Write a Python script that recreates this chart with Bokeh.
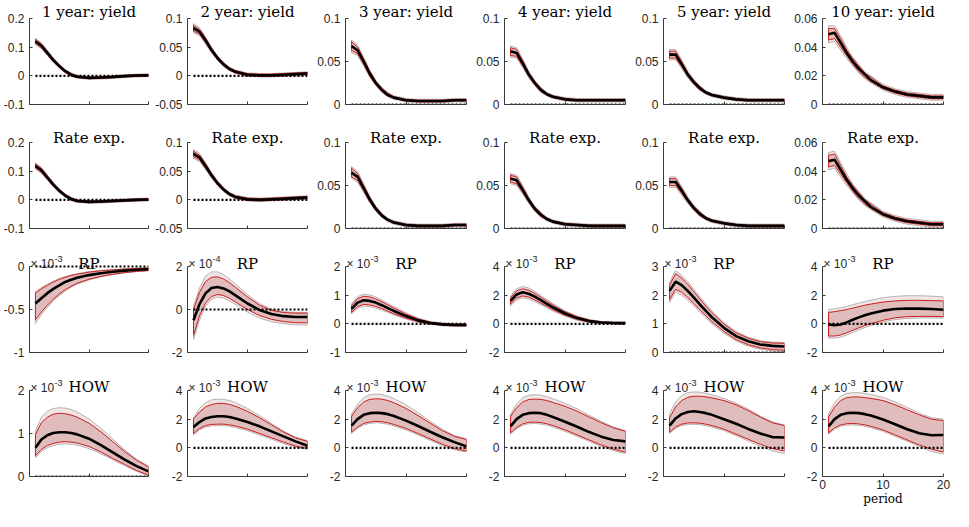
from bokeh.plotting import figure
from bokeh.layouts import gridplot
from bokeh.models import Range1d, FixedTicker
from bokeh.core.properties import value
from bokeh.embed import file_html
from bokeh.resources import INLINE

# ---------------- data ----------------
periods = [1, 2, 3, 4, 5, 6, 7, 8, 10, 12, 14, 16, 18, 20]
x_ticks = [0, 10, 20]
x_tick_labels = ["0", "10", "20"]
x_label = "period"
zero = 0

maturities = ["1 year: yield", "2 year: yield", "3 year: yield", "4 year: yield", "5 year: yield", "10 year: yield"]
row_titles = ["Rate exp.", "RP", "HOW"]

# row 1: yields
yield1_med = [0.120, 0.105, 0.080, 0.055, 0.034, 0.016, 0.004, -0.003, -0.007, -0.006, -0.004, -0.001, 0.001, 0.002]
yield1_hi68 = [0.127, 0.112, 0.086, 0.060, 0.038, 0.020, 0.008, 0.000, -0.004, -0.003, -0.001, 0.002, 0.004, 0.005]
yield1_lo68 = [0.113, 0.098, 0.074, 0.050, 0.030, 0.012, 0.000, -0.006, -0.010, -0.009, -0.007, -0.004, -0.002, -0.001]
yield1_hi90 = [0.131, 0.115, 0.089, 0.063, 0.041, 0.022, 0.010, 0.002, -0.002, -0.001, 0.001, 0.004, 0.006, 0.007]
yield1_lo90 = [0.109, 0.095, 0.071, 0.047, 0.027, 0.010, -0.002, -0.008, -0.012, -0.011, -0.009, -0.006, -0.004, -0.003]

yield2_med = [0.083, 0.077, 0.062, 0.045, 0.031, 0.020, 0.012, 0.007, 0.002, 0.001, 0.001, 0.002, 0.003, 0.004]
yield2_hi68 = [0.088, 0.081, 0.066, 0.048, 0.034, 0.022, 0.014, 0.009, 0.004, 0.003, 0.003, 0.004, 0.005, 0.006]
yield2_lo68 = [0.078, 0.073, 0.058, 0.042, 0.028, 0.018, 0.010, 0.005, 0.000, -0.001, -0.001, 0.000, 0.001, 0.002]
yield2_hi90 = [0.091, 0.084, 0.068, 0.050, 0.035, 0.024, 0.015, 0.010, 0.005, 0.004, 0.004, 0.005, 0.006, 0.007]
yield2_lo90 = [0.075, 0.070, 0.056, 0.040, 0.027, 0.016, 0.009, 0.004, -0.001, -0.002, -0.002, -0.001, 0.000, 0.001]

yield3_med = [0.068, 0.063, 0.050, 0.036, 0.025, 0.017, 0.011, 0.008, 0.005, 0.004, 0.004, 0.004, 0.005, 0.005]
yield3_hi68 = [0.073, 0.067, 0.053, 0.039, 0.027, 0.019, 0.013, 0.009, 0.006, 0.005, 0.005, 0.005, 0.006, 0.006]
yield3_lo68 = [0.063, 0.059, 0.047, 0.033, 0.023, 0.015, 0.010, 0.007, 0.004, 0.003, 0.003, 0.003, 0.004, 0.004]
yield3_hi90 = [0.075, 0.069, 0.055, 0.040, 0.028, 0.020, 0.014, 0.010, 0.007, 0.006, 0.006, 0.006, 0.007, 0.007]
yield3_lo90 = [0.060, 0.057, 0.045, 0.032, 0.022, 0.014, 0.009, 0.006, 0.003, 0.002, 0.002, 0.002, 0.003, 0.003]

yield4_med = [0.062, 0.060, 0.048, 0.035, 0.025, 0.017, 0.012, 0.009, 0.006, 0.005, 0.005, 0.005, 0.005, 0.005]
yield4_hi68 = [0.066, 0.064, 0.051, 0.037, 0.027, 0.019, 0.013, 0.010, 0.007, 0.006, 0.006, 0.006, 0.006, 0.006]
yield4_lo68 = [0.057, 0.056, 0.045, 0.033, 0.023, 0.015, 0.011, 0.008, 0.005, 0.004, 0.004, 0.004, 0.004, 0.004]
yield4_hi90 = [0.068, 0.066, 0.053, 0.039, 0.028, 0.020, 0.014, 0.011, 0.008, 0.007, 0.007, 0.007, 0.007, 0.007]
yield4_lo90 = [0.055, 0.054, 0.043, 0.031, 0.022, 0.014, 0.010, 0.007, 0.004, 0.003, 0.003, 0.003, 0.003, 0.003]

yield5_med = [0.058, 0.058, 0.047, 0.035, 0.026, 0.019, 0.014, 0.011, 0.008, 0.006, 0.005, 0.005, 0.005, 0.005]
yield5_hi68 = [0.062, 0.062, 0.050, 0.037, 0.028, 0.021, 0.015, 0.012, 0.009, 0.007, 0.006, 0.006, 0.006, 0.006]
yield5_lo68 = [0.054, 0.054, 0.044, 0.033, 0.024, 0.017, 0.013, 0.010, 0.007, 0.005, 0.004, 0.004, 0.004, 0.004]
yield5_hi90 = [0.064, 0.064, 0.052, 0.039, 0.029, 0.022, 0.016, 0.013, 0.010, 0.008, 0.007, 0.007, 0.007, 0.007]
yield5_lo90 = [0.052, 0.052, 0.042, 0.031, 0.023, 0.016, 0.012, 0.009, 0.006, 0.004, 0.003, 0.003, 0.003, 0.003]

yield10_med = [0.049, 0.050, 0.043, 0.036, 0.030, 0.025, 0.021, 0.017, 0.012, 0.009, 0.007, 0.006, 0.005, 0.005]
yield10_hi68 = [0.053, 0.053, 0.046, 0.038, 0.032, 0.027, 0.022, 0.019, 0.013, 0.010, 0.008, 0.007, 0.006, 0.006]
yield10_lo68 = [0.045, 0.046, 0.040, 0.034, 0.028, 0.023, 0.019, 0.016, 0.011, 0.008, 0.006, 0.005, 0.004, 0.004]
yield10_hi90 = [0.055, 0.055, 0.048, 0.040, 0.033, 0.028, 0.023, 0.020, 0.014, 0.011, 0.009, 0.008, 0.007, 0.007]
yield10_lo90 = [0.043, 0.044, 0.038, 0.032, 0.027, 0.022, 0.018, 0.015, 0.010, 0.007, 0.005, 0.004, 0.003, 0.003]

# row 2: rate expectations
rexp1_med = [0.118, 0.103, 0.078, 0.053, 0.032, 0.015, 0.003, -0.004, -0.007, -0.006, -0.004, -0.002, 0.000, 0.001]
rexp1_hi68 = [0.125, 0.110, 0.084, 0.058, 0.036, 0.019, 0.007, -0.001, -0.004, -0.003, -0.001, 0.001, 0.003, 0.004]
rexp1_lo68 = [0.111, 0.096, 0.072, 0.048, 0.028, 0.011, -0.001, -0.007, -0.010, -0.009, -0.007, -0.005, -0.003, -0.002]
rexp1_hi90 = [0.129, 0.113, 0.087, 0.061, 0.039, 0.021, 0.009, 0.001, -0.002, -0.001, 0.001, 0.003, 0.005, 0.006]
rexp1_lo90 = [0.107, 0.093, 0.069, 0.045, 0.025, 0.009, -0.003, -0.009, -0.012, -0.011, -0.009, -0.007, -0.005, -0.004]

rexp2_med = [0.080, 0.074, 0.059, 0.043, 0.029, 0.018, 0.010, 0.005, 0.001, 0.000, 0.001, 0.002, 0.003, 0.004]
rexp2_hi68 = [0.085, 0.078, 0.063, 0.046, 0.032, 0.020, 0.012, 0.007, 0.003, 0.002, 0.003, 0.004, 0.005, 0.006]
rexp2_lo68 = [0.075, 0.070, 0.055, 0.040, 0.026, 0.016, 0.008, 0.003, -0.001, -0.002, -0.001, 0.000, 0.001, 0.002]
rexp2_hi90 = [0.088, 0.081, 0.065, 0.048, 0.033, 0.022, 0.013, 0.008, 0.004, 0.003, 0.004, 0.005, 0.006, 0.007]
rexp2_lo90 = [0.072, 0.067, 0.053, 0.038, 0.025, 0.014, 0.007, 0.002, -0.002, -0.003, -0.002, -0.001, 0.000, 0.001]

rexp3_med = [0.065, 0.060, 0.047, 0.034, 0.023, 0.015, 0.010, 0.007, 0.004, 0.003, 0.003, 0.003, 0.004, 0.004]
rexp3_hi68 = [0.070, 0.064, 0.050, 0.036, 0.025, 0.017, 0.011, 0.008, 0.005, 0.004, 0.004, 0.004, 0.005, 0.005]
rexp3_lo68 = [0.060, 0.056, 0.044, 0.031, 0.021, 0.014, 0.009, 0.006, 0.003, 0.002, 0.002, 0.002, 0.003, 0.003]
rexp3_hi90 = [0.072, 0.066, 0.052, 0.038, 0.026, 0.018, 0.012, 0.009, 0.006, 0.005, 0.005, 0.005, 0.006, 0.006]
rexp3_lo90 = [0.058, 0.054, 0.042, 0.030, 0.020, 0.013, 0.008, 0.005, 0.002, 0.001, 0.001, 0.001, 0.002, 0.002]

rexp4_med = [0.058, 0.056, 0.045, 0.033, 0.023, 0.016, 0.011, 0.008, 0.005, 0.004, 0.003, 0.003, 0.003, 0.003]
rexp4_hi68 = [0.062, 0.060, 0.048, 0.035, 0.025, 0.018, 0.012, 0.009, 0.006, 0.005, 0.004, 0.004, 0.004, 0.004]
rexp4_lo68 = [0.054, 0.052, 0.042, 0.031, 0.021, 0.014, 0.010, 0.007, 0.004, 0.003, 0.002, 0.002, 0.002, 0.002]
rexp4_hi90 = [0.064, 0.062, 0.050, 0.037, 0.026, 0.019, 0.013, 0.010, 0.007, 0.006, 0.005, 0.005, 0.005, 0.005]
rexp4_lo90 = [0.052, 0.050, 0.040, 0.029, 0.020, 0.013, 0.009, 0.006, 0.003, 0.002, 0.001, 0.001, 0.001, 0.001]

rexp5_med = [0.054, 0.054, 0.044, 0.033, 0.024, 0.017, 0.012, 0.009, 0.006, 0.004, 0.003, 0.003, 0.003, 0.003]
rexp5_hi68 = [0.058, 0.058, 0.047, 0.035, 0.026, 0.019, 0.013, 0.010, 0.007, 0.005, 0.004, 0.004, 0.004, 0.004]
rexp5_lo68 = [0.050, 0.050, 0.041, 0.031, 0.022, 0.015, 0.011, 0.008, 0.005, 0.003, 0.002, 0.002, 0.002, 0.002]
rexp5_hi90 = [0.060, 0.060, 0.049, 0.037, 0.027, 0.020, 0.014, 0.011, 0.008, 0.006, 0.005, 0.005, 0.005, 0.005]
rexp5_lo90 = [0.048, 0.048, 0.039, 0.029, 0.021, 0.014, 0.010, 0.007, 0.004, 0.002, 0.001, 0.001, 0.001, 0.001]

rexp10_med = [0.047, 0.048, 0.041, 0.034, 0.028, 0.023, 0.019, 0.015, 0.010, 0.007, 0.005, 0.004, 0.003, 0.003]
rexp10_hi68 = [0.051, 0.052, 0.044, 0.036, 0.030, 0.025, 0.020, 0.017, 0.011, 0.008, 0.006, 0.005, 0.004, 0.004]
rexp10_lo68 = [0.043, 0.044, 0.038, 0.032, 0.026, 0.021, 0.017, 0.014, 0.009, 0.006, 0.004, 0.003, 0.002, 0.002]
rexp10_hi90 = [0.053, 0.054, 0.046, 0.038, 0.031, 0.026, 0.021, 0.018, 0.012, 0.009, 0.007, 0.006, 0.005, 0.005]
rexp10_lo90 = [0.041, 0.042, 0.036, 0.030, 0.025, 0.020, 0.016, 0.013, 0.008, 0.005, 0.003, 0.002, 0.001, 0.001]

# row 3: risk premium (in units of the axis exponent)
rp1_med = [-0.43, -0.37, -0.31, -0.26, -0.22, -0.18, -0.155, -0.13, -0.10, -0.078, -0.061, -0.048, -0.038, -0.030]
rp1_hi68 = [-0.31, -0.26, -0.22, -0.18, -0.15, -0.125, -0.105, -0.09, -0.066, -0.05, -0.039, -0.03, -0.023, -0.018]
rp1_lo68 = [-0.62, -0.53, -0.45, -0.38, -0.32, -0.27, -0.23, -0.195, -0.148, -0.115, -0.09, -0.071, -0.057, -0.047]
rp1_hi90 = [-0.29, -0.245, -0.205, -0.17, -0.14, -0.117, -0.098, -0.083, -0.06, -0.045, -0.035, -0.027, -0.021, -0.016]
rp1_lo90 = [-0.66, -0.56, -0.475, -0.40, -0.34, -0.285, -0.24, -0.205, -0.155, -0.12, -0.094, -0.075, -0.06, -0.049]

rp2_med = [-0.5, 0.25, 0.75, 1.0, 1.05, 0.98, 0.84, 0.66, 0.28, -0.02, -0.21, -0.31, -0.35, -0.35]
rp2_hi68 = [0.0, 0.8, 1.3, 1.5, 1.52, 1.42, 1.25, 1.03, 0.58, 0.2, -0.04, -0.14, -0.17, -0.17]
rp2_lo68 = [-1.2, -0.3, 0.3, 0.6, 0.7, 0.65, 0.52, 0.35, 0.0, -0.28, -0.46, -0.56, -0.61, -0.62]
rp2_hi90 = [0.15, 1.0, 1.55, 1.75, 1.75, 1.62, 1.42, 1.18, 0.69, 0.28, 0.01, -0.1, -0.13, -0.13]
rp2_lo90 = [-1.4, -0.5, 0.15, 0.48, 0.58, 0.53, 0.4, 0.23, -0.12, -0.4, -0.57, -0.66, -0.71, -0.72]

rp3_med = [0.52, 0.74, 0.82, 0.80, 0.74, 0.65, 0.55, 0.45, 0.27, 0.12, 0.03, -0.02, -0.04, -0.04]
rp3_hi68 = [0.64, 0.88, 0.96, 0.94, 0.87, 0.77, 0.66, 0.55, 0.34, 0.17, 0.06, 0.01, -0.01, -0.01]
rp3_lo68 = [0.40, 0.60, 0.68, 0.66, 0.61, 0.53, 0.44, 0.35, 0.20, 0.07, 0.0, -0.05, -0.07, -0.07]
rp3_hi90 = [0.70, 0.95, 1.03, 1.01, 0.94, 0.83, 0.71, 0.60, 0.38, 0.20, 0.08, 0.03, 0.0, 0.0]
rp3_lo90 = [0.35, 0.54, 0.62, 0.60, 0.55, 0.48, 0.40, 0.31, 0.17, 0.05, -0.02, -0.07, -0.09, -0.09]

rp4_med = [1.6, 2.05, 2.2, 2.1, 1.9, 1.65, 1.4, 1.15, 0.72, 0.4, 0.19, 0.09, 0.06, 0.05]
rp4_hi68 = [1.82, 2.3, 2.45, 2.35, 2.13, 1.86, 1.58, 1.31, 0.84, 0.49, 0.26, 0.14, 0.1, 0.09]
rp4_lo68 = [1.38, 1.8, 1.95, 1.86, 1.67, 1.44, 1.22, 0.99, 0.6, 0.31, 0.12, 0.04, 0.02, 0.01]
rp4_hi90 = [1.95, 2.45, 2.6, 2.5, 2.27, 1.98, 1.69, 1.41, 0.91, 0.55, 0.3, 0.17, 0.13, 0.12]
rp4_lo90 = [1.25, 1.67, 1.82, 1.73, 1.55, 1.33, 1.12, 0.9, 0.53, 0.25, 0.08, 0.0, -0.02, -0.02]

rp5_med = [2.15, 2.47, 2.35, 2.15, 1.92, 1.68, 1.45, 1.23, 0.86, 0.57, 0.39, 0.28, 0.23, 0.21]
rp5_hi68 = [2.35, 2.75, 2.6, 2.38, 2.13, 1.87, 1.62, 1.39, 0.99, 0.69, 0.5, 0.38, 0.33, 0.32]
rp5_lo68 = [1.85, 2.2, 2.1, 1.92, 1.71, 1.49, 1.28, 1.07, 0.73, 0.45, 0.27, 0.16, 0.1, 0.08]
rp5_hi90 = [2.45, 2.85, 2.7, 2.47, 2.21, 1.95, 1.69, 1.45, 1.04, 0.73, 0.53, 0.41, 0.36, 0.35]
rp5_lo90 = [1.75, 2.1, 2.0, 1.83, 1.63, 1.41, 1.2, 1.0, 0.67, 0.4, 0.22, 0.11, 0.05, 0.03]

rp10_med = [-0.05, -0.1, -0.05, 0.1, 0.28, 0.45, 0.6, 0.72, 0.92, 1.03, 1.07, 1.06, 1.03, 0.98]
rp10_hi68 = [0.8, 0.85, 0.92, 1.0, 1.1, 1.2, 1.3, 1.38, 1.52, 1.6, 1.64, 1.64, 1.62, 1.6]
rp10_lo68 = [-0.85, -0.85, -0.78, -0.62, -0.45, -0.28, -0.12, 0.0, 0.25, 0.42, 0.5, 0.52, 0.52, 0.5]
rp10_hi90 = [1.0, 1.05, 1.12, 1.22, 1.33, 1.45, 1.55, 1.65, 1.82, 1.92, 1.96, 1.96, 1.93, 1.88]
rp10_lo90 = [-1.0, -1.0, -0.93, -0.78, -0.6, -0.42, -0.26, -0.12, 0.13, 0.3, 0.38, 0.41, 0.41, 0.4]

# row 4: HOW (in units of 1e-3)
how1_med = [0.67, 0.86, 0.96, 1.01, 1.03, 1.03, 1.01, 0.98, 0.88, 0.73, 0.56, 0.39, 0.24, 0.12]
how1_hi68 = [0.98, 1.25, 1.38, 1.45, 1.47, 1.46, 1.43, 1.38, 1.24, 1.04, 0.81, 0.58, 0.38, 0.22]
how1_lo68 = [0.48, 0.63, 0.72, 0.77, 0.8, 0.81, 0.8, 0.78, 0.7, 0.57, 0.42, 0.28, 0.14, 0.03]
how1_hi90 = [1.05, 1.38, 1.52, 1.58, 1.6, 1.59, 1.56, 1.5, 1.34, 1.12, 0.87, 0.62, 0.4, 0.24]
how1_lo90 = [0.44, 0.58, 0.67, 0.72, 0.75, 0.76, 0.75, 0.73, 0.65, 0.53, 0.39, 0.25, 0.12, 0.02]

how2_med = [1.45, 1.8, 2.05, 2.15, 2.2, 2.2, 2.15, 2.05, 1.8, 1.5, 1.15, 0.8, 0.45, 0.15]
how2_hi68 = [2.0, 2.5, 2.85, 3.02, 3.1, 3.1, 3.03, 2.9, 2.55, 2.1, 1.6, 1.1, 0.7, 0.45]
how2_lo68 = [1.0, 1.35, 1.55, 1.63, 1.65, 1.65, 1.6, 1.52, 1.3, 1.0, 0.7, 0.4, 0.12, -0.05]
how2_hi90 = [2.1, 2.75, 3.15, 3.35, 3.4, 3.38, 3.3, 3.15, 2.75, 2.25, 1.7, 1.18, 0.75, 0.5]
how2_lo90 = [0.9, 1.25, 1.45, 1.53, 1.55, 1.55, 1.5, 1.42, 1.2, 0.9, 0.6, 0.3, 0.04, -0.1]

how3_med = [1.55, 2.0, 2.3, 2.42, 2.45, 2.42, 2.35, 2.22, 1.9, 1.52, 1.12, 0.74, 0.4, 0.1]
how3_hi68 = [2.2, 2.8, 3.2, 3.38, 3.42, 3.4, 3.3, 3.15, 2.75, 2.25, 1.72, 1.2, 0.8, 0.58]
how3_lo68 = [1.1, 1.45, 1.7, 1.8, 1.85, 1.82, 1.75, 1.63, 1.35, 1.0, 0.62, 0.25, -0.05, -0.22]
how3_hi90 = [2.35, 3.05, 3.5, 3.7, 3.75, 3.72, 3.6, 3.43, 3.0, 2.45, 1.85, 1.3, 0.86, 0.63]
how3_lo90 = [1.0, 1.35, 1.6, 1.7, 1.75, 1.72, 1.65, 1.53, 1.25, 0.9, 0.52, 0.15, -0.13, -0.3]

how4_med = [1.5, 2.0, 2.3, 2.42, 2.45, 2.42, 2.3, 2.15, 1.82, 1.47, 1.1, 0.78, 0.55, 0.45]
how4_hi68 = [2.2, 2.8, 3.2, 3.37, 3.4, 3.38, 3.3, 3.17, 2.9, 2.55, 2.15, 1.75, 1.4, 1.15]
how4_lo68 = [1.05, 1.42, 1.67, 1.78, 1.8, 1.76, 1.68, 1.56, 1.25, 0.9, 0.55, 0.2, -0.1, -0.3]
how4_hi90 = [2.35, 3.05, 3.5, 3.67, 3.7, 3.67, 3.57, 3.42, 3.1, 2.72, 2.28, 1.85, 1.45, 1.2]
how4_lo90 = [0.98, 1.33, 1.57, 1.68, 1.7, 1.66, 1.58, 1.46, 1.15, 0.8, 0.45, 0.1, -0.2, -0.4]

how5_med = [1.55, 2.05, 2.35, 2.5, 2.55, 2.5, 2.42, 2.3, 2.0, 1.68, 1.32, 1.0, 0.75, 0.72]
how5_hi68 = [2.1, 2.85, 3.3, 3.52, 3.6, 3.6, 3.56, 3.48, 3.3, 3.0, 2.6, 2.15, 1.75, 1.55]
how5_lo68 = [1.1, 1.45, 1.65, 1.73, 1.75, 1.72, 1.65, 1.55, 1.3, 0.95, 0.6, 0.25, -0.05, -0.22]
how5_hi90 = [2.4, 3.2, 3.65, 3.85, 3.9, 3.88, 3.8, 3.7, 3.45, 3.12, 2.7, 2.22, 1.8, 1.6]
how5_lo90 = [1.0, 1.35, 1.55, 1.63, 1.65, 1.62, 1.55, 1.45, 1.2, 0.85, 0.48, 0.1, -0.22, -0.4]

how10_med = [1.5, 2.0, 2.3, 2.42, 2.45, 2.42, 2.35, 2.25, 1.98, 1.65, 1.3, 1.02, 0.88, 0.9]
how10_hi68 = [2.15, 2.85, 3.3, 3.5, 3.55, 3.55, 3.5, 3.45, 3.3, 3.0, 2.65, 2.3, 2.0, 1.9]
how10_lo68 = [1.05, 1.4, 1.6, 1.68, 1.7, 1.67, 1.6, 1.5, 1.25, 0.9, 0.55, 0.2, -0.1, -0.3]
how10_hi90 = [2.4, 3.15, 3.6, 3.8, 3.85, 3.85, 3.8, 3.72, 3.52, 3.2, 2.82, 2.42, 2.1, 2.0]
how10_lo90 = [0.98, 1.3, 1.5, 1.58, 1.6, 1.57, 1.5, 1.4, 1.15, 0.8, 0.45, 0.1, -0.25, -0.45]

# y-axis ticks per panel
yield_ticks = [[-0.1, 0, 0.1, 0.2], [-0.05, 0, 0.05, 0.1], [0, 0.05, 0.1], [0, 0.05, 0.1], [0, 0.05, 0.1], [0, 0.02, 0.04, 0.06]]
yield_tick_labels = [["-0.1", "0", "0.1", "0.2"], ["-0.05", "0", "0.05", "0.1"], ["0", "0.05", "0.1"], ["0", "0.05", "0.1"], ["0", "0.05", "0.1"], ["0", "0.02", "0.04", "0.06"]]
rp_ticks = [[-1, -0.5, 0], [-2, 0, 2], [-1, 0, 1, 2], [-2, 0, 2, 4], [0, 1, 2, 3], [-2, 0, 2, 4]]
rp_tick_labels = [["-1", "-0.5", "0"], ["-2", "0", "2"], ["-1", "0", "1", "2"], ["-2", "0", "2", "4"], ["0", "1", "2", "3"], ["-2", "0", "2", "4"]]
how_ticks = [[0, 1, 2], [-2, 0, 2, 4], [-2, 0, 2, 4], [-2, 0, 2, 4], [-2, 0, 2, 4], [-2, 0, 2, 4]]
how_tick_labels = [["0", "1", "2"], ["-2", "0", "2", "4"], ["-2", "0", "2", "4"], ["-2", "0", "2", "4"], ["-2", "0", "2", "4"], ["-2", "0", "2", "4"]]
rp_exponents = ["-3", "-4", "-3", "-3", "-3", "-3"]
how_exponents = ["-3", "-3", "-3", "-3", "-3", "-3"]

# ---------------- styling ----------------
OUTER_FILL = "#f1e6e6"
OUTER_LINE = "#b3a9a9"
INNER_FILL = "#e0bcbc"
INNER_LINE = "#c81e1e"
AXIS_COLOR = "#3a3a3a"
TICK_FONT = "Liberation Sans"
TITLE_FONT = "DejaVu Serif"

FRAME_W = 121
DATA_H = 86
HEAD_H = 18   # title space kept inside the frame, above the data area
TITLE_OFFSETS = [-7, -5, -3, -4]

rows_data = [
    [(yield1_med, yield1_lo68, yield1_hi68, yield1_lo90, yield1_hi90),
     (yield2_med, yield2_lo68, yield2_hi68, yield2_lo90, yield2_hi90),
     (yield3_med, yield3_lo68, yield3_hi68, yield3_lo90, yield3_hi90),
     (yield4_med, yield4_lo68, yield4_hi68, yield4_lo90, yield4_hi90),
     (yield5_med, yield5_lo68, yield5_hi68, yield5_lo90, yield5_hi90),
     (yield10_med, yield10_lo68, yield10_hi68, yield10_lo90, yield10_hi90)],
    [(rexp1_med, rexp1_lo68, rexp1_hi68, rexp1_lo90, rexp1_hi90),
     (rexp2_med, rexp2_lo68, rexp2_hi68, rexp2_lo90, rexp2_hi90),
     (rexp3_med, rexp3_lo68, rexp3_hi68, rexp3_lo90, rexp3_hi90),
     (rexp4_med, rexp4_lo68, rexp4_hi68, rexp4_lo90, rexp4_hi90),
     (rexp5_med, rexp5_lo68, rexp5_hi68, rexp5_lo90, rexp5_hi90),
     (rexp10_med, rexp10_lo68, rexp10_hi68, rexp10_lo90, rexp10_hi90)],
    [(rp1_med, rp1_lo68, rp1_hi68, rp1_lo90, rp1_hi90),
     (rp2_med, rp2_lo68, rp2_hi68, rp2_lo90, rp2_hi90),
     (rp3_med, rp3_lo68, rp3_hi68, rp3_lo90, rp3_hi90),
     (rp4_med, rp4_lo68, rp4_hi68, rp4_lo90, rp4_hi90),
     (rp5_med, rp5_lo68, rp5_hi68, rp5_lo90, rp5_hi90),
     (rp10_med, rp10_lo68, rp10_hi68, rp10_lo90, rp10_hi90)],
    [(how1_med, how1_lo68, how1_hi68, how1_lo90, how1_hi90),
     (how2_med, how2_lo68, how2_hi68, how2_lo90, how2_hi90),
     (how3_med, how3_lo68, how3_hi68, how3_lo90, how3_hi90),
     (how4_med, how4_lo68, how4_hi68, how4_lo90, how4_hi90),
     (how5_med, how5_lo68, how5_hi68, how5_lo90, how5_hi90),
     (how10_med, how10_lo68, how10_hi68, how10_lo90, how10_hi90)],
]
rows_ticks = [yield_ticks, yield_ticks, rp_ticks, how_ticks]
rows_tick_labels = [yield_tick_labels, yield_tick_labels, rp_tick_labels, how_tick_labels]
rows_titles = [maturities, [row_titles[0]] * 6, [row_titles[1]] * 6, [row_titles[2]] * 6]
rows_exponents = [[None] * 6, [None] * 6, rp_exponents, how_exponents]


def make_panel(r, c):
    med, lo68, hi68, lo90, hi90 = rows_data[r][c]
    ticks = rows_ticks[r][c]
    labels = rows_tick_labels[r][c]
    y_lo, y_hi = ticks[0], ticks[-1]
    last_row = (r == 3)
    last_col = (c == 5)
    left_b = 27 if c == 0 else 34
    right_b = 8 if last_col else 4
    bottom_b = 35 if last_row else 20
    y_top = y_hi + (y_hi - y_lo) * HEAD_H / DATA_H
    p = figure(width=left_b + FRAME_W + right_b, height=HEAD_H + DATA_H + bottom_b,
               output_backend="svg", toolbar_location=None,
               x_range=Range1d(x_ticks[0], x_ticks[-1]),
               y_range=Range1d(y_lo, y_top),
               min_border_left=left_b, min_border_right=right_b,
               min_border_top=0, min_border_bottom=bottom_b,
               background_fill_color="white", border_fill_color="white",
               outline_line_color=None)
    p.grid.visible = False

    xs_band = periods + periods[::-1]
    p.patch(xs_band, hi90 + lo90[::-1], fill_color=OUTER_FILL, line_color=OUTER_LINE, line_width=0.9)
    p.patch(xs_band, hi68 + lo68[::-1], fill_color=INNER_FILL, line_color=INNER_LINE, line_width=1.0)
    p.line(periods, med, line_color="black", line_width=2.6)
    p.line([periods[0], periods[-1]], [zero, zero], line_color="black", line_width=2.2, line_dash="2 2")

    # axes
    p.xaxis.ticker = FixedTicker(ticks=x_ticks)
    p.yaxis.ticker = FixedTicker(ticks=ticks)
    p.yaxis.bounds = (y_lo, y_hi)
    p.yaxis.major_label_overrides = {t: l for t, l in zip(ticks, labels)}
    if last_row and last_col:
        p.xaxis.major_label_overrides = {t: l for t, l in zip(x_ticks, x_tick_labels)}
        p.xaxis.axis_label = x_label
        p.xaxis.axis_label_text_font = TITLE_FONT
        p.xaxis.axis_label_text_font_size = "12px"
        p.xaxis.axis_label_text_font_style = "normal"
        p.xaxis.axis_label_text_color = "black"
        p.xaxis.axis_label_standoff = 0
    else:
        p.xaxis.major_label_overrides = {t: "" for t in x_ticks}
    for ax in (p.xaxis, p.yaxis):
        ax.axis_line_color = AXIS_COLOR
        ax.axis_line_width = 1
        ax.major_tick_line_color = AXIS_COLOR
        ax.major_tick_in = 3
        ax.major_tick_out = 0
        ax.minor_tick_line_color = None
        ax.major_label_text_font = TICK_FONT
        ax.major_label_text_font_size = "12px"
        ax.major_label_text_color = "#262626"
    p.yaxis.major_label_standoff = 5
    p.xaxis.major_label_standoff = 3

    # title, drawn inside the frame head room
    exp = rows_exponents[r][c]
    if exp is not None:
        p.text(x=[x_ticks[0]], y=[y_hi], text=["\u00d7 10"], x_offset=1, y_offset=-3,
               text_align="left", text_baseline="alphabetic",
               text_font=value(TICK_FONT), text_font_size="12px", text_color="#262626")
        p.text(x=[x_ticks[0]], y=[y_hi], text=[exp], x_offset=25, y_offset=-8,
               text_align="left", text_baseline="alphabetic",
               text_font=value(TICK_FONT), text_font_size="9px", text_color="#262626")
    p.text(x=[x_ticks[1]], y=[y_hi], text=[rows_titles[r][c]], y_offset=TITLE_OFFSETS[r],
           text_align="center", text_baseline="alphabetic",
           text_font=value(TITLE_FONT), text_font_size="15px", text_color="black")
    return p


grid = [[make_panel(r, c) for c in range(6)] for r in range(4)]
layout = gridplot(grid, toolbar_location=None)

open("out.html", "w").write(file_html(layout, INLINE))
